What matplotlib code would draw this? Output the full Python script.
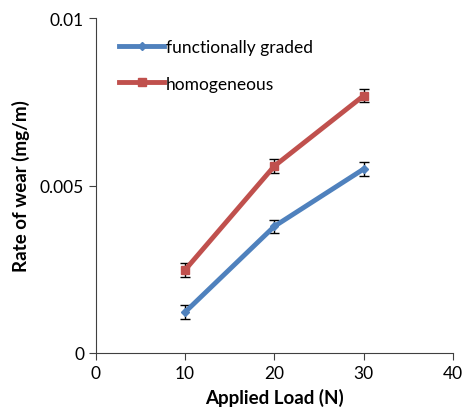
import matplotlib
matplotlib.use("Agg")
from matplotlib import pyplot as plt

load = [10, 20, 30]
graded = [0.00122, 0.00378, 0.00549]
homog = [0.00248, 0.00558, 0.00768]
graded_err = [0.0002, 0.0002, 0.0002]
homog_err = [0.0002, 0.0002, 0.0002]

plt.rcParams['font.family'] = ['Lato', 'DejaVu Sans']

fig = plt.figure(figsize=(4.63, 4.14), dpi=100)
ax = fig.add_axes([0.207, 0.145, 0.771, 0.809])

ax.errorbar(load, graded, yerr=graded_err, color='#4F81BD', lw=3.5,
            marker='D', ms=4, ecolor='black', elinewidth=1, capsize=3.5,
            capthick=1, label="functionally graded")
ax.errorbar(load, homog, yerr=homog_err, color='#C0504D', lw=3.5,
            marker='s', ms=6, ecolor='black', elinewidth=1, capsize=3.5,
            capthick=1, label="homogeneous")

ax.set_xlim(0, 40)
ax.set_ylim(0, 0.01)
ax.set_xticks([0, 10, 20, 30, 40])
ax.set_yticks([0, 0.005, 0.01])
ax.set_yticklabels(["0", "0.005", "0.01"])
ax.spines['top'].set_visible(False)
ax.spines['right'].set_visible(False)
ax.tick_params(labelsize=12.5, direction='out', length=5, color='#404040')
ax.spines['left'].set_color('#404040')
ax.spines['bottom'].set_color('#404040')

ax.set_xlabel("Applied Load (N)", fontsize=13.5, fontweight='bold', labelpad=5)
ax.set_ylabel("Rate of wear (mg/m)", fontsize=13.5, fontweight='bold', labelpad=7)

handles, labels = ax.get_legend_handles_labels()
handles = [h[0] for h in handles]
ax.legend(handles, labels, loc='upper left', bbox_to_anchor=(0.022, 0.985),
          frameon=False, fontsize=12.5, handlelength=2.6, handletextpad=0.1,
          labelspacing=1.2)

fig.savefig("out.png", dpi=100)
